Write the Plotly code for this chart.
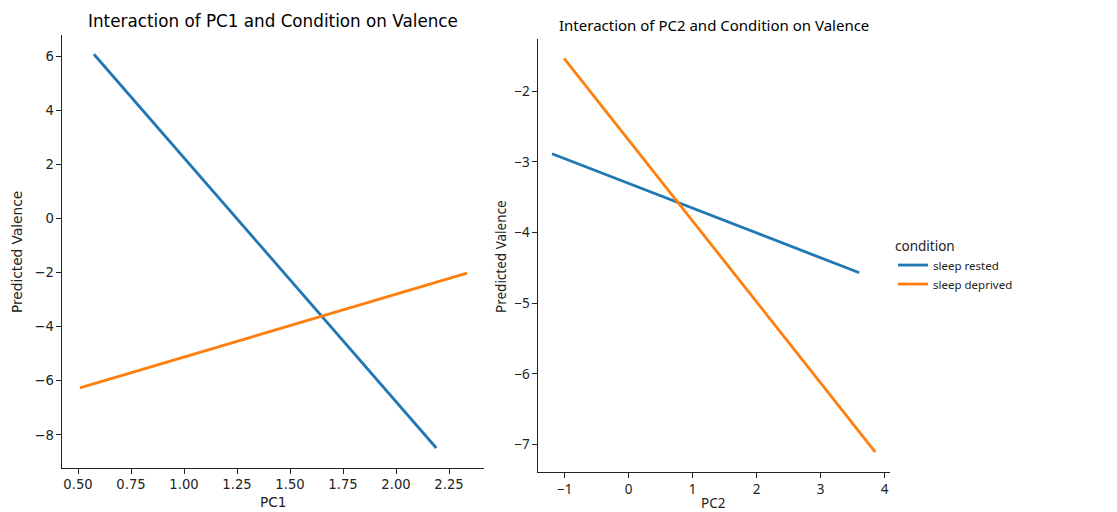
import plotly.graph_objects as go

W, H = 1117, 512

# ---- data ----
conditions = ["sleep rested", "sleep deprived"]
colors = ["#1f77b4", "#ff7f0e"]

pc1_rested_x = [0.575, 2.19]
pc1_rested_y = [6.07, -8.48]
pc1_deprived_x = [0.509, 2.335]
pc1_deprived_y = [-6.26, -2.02]

pc2_rested_x = [-1.198, 3.603]
pc2_rested_y = [-2.884, -4.569]
pc2_deprived_x = [-1.01, 3.853]
pc2_deprived_y = [-1.533, -7.109]

pc1_xticks = [0.50, 0.75, 1.00, 1.25, 1.50, 1.75, 2.00, 2.25]
pc1_yticks = [-8, -6, -4, -2, 0, 2, 4, 6]
pc2_xticks = [-1, 0, 1, 2, 3, 4]
pc2_yticks = [-7, -6, -5, -4, -3, -2]

def px_x(p):
    return p / W

def px_y(p):
    return 1 - p / H

fig = go.Figure()

lw = 2.8
panels = [
    ("x", "y", [(pc1_rested_x, pc1_rested_y), (pc1_deprived_x, pc1_deprived_y)], False),
    ("x2", "y2", [(pc2_rested_x, pc2_rested_y), (pc2_deprived_x, pc2_deprived_y)], True),
]
for xa, ya, series, show in panels:
    for (xs, ys), name, col in zip(series, conditions, colors):
        fig.add_trace(go.Scatter(
            x=xs, y=ys, mode="lines", name=name, legendgroup=name,
            showlegend=show, line=dict(color=col, width=lw),
            xaxis=xa, yaxis=ya,
        ))

f1 = "DejaVu Sans"
f2 = "Noto Sans"
tc = "#222222"

axis_common = dict(
    showline=True, linecolor="#222222", linewidth=1.1, mirror=False,
    ticks="outside", ticklen=4.5, tickwidth=1, tickcolor="#222222",
    showgrid=False, zeroline=False,
)

fig.update_layout(
    width=W, height=H,
    margin=dict(l=0, r=0, t=0, b=0),
    plot_bgcolor="white", paper_bgcolor="white",
    xaxis=dict(domain=[px_x(62), px_x(484)], range=[0.4245, 2.415], anchor="y",
               tickvals=pc1_xticks, ticktext=[f"{v:.2f}" for v in pc1_xticks],
               tickfont=dict(family=f1, size=13.2, color=tc), **axis_common),
    yaxis=dict(domain=[px_y(468), px_y(35)], range=[-9.22, 6.78], anchor="x",
               tickvals=pc1_yticks,
               tickfont=dict(family=f1, size=13.2, color=tc), **axis_common),
    xaxis2=dict(domain=[px_x(538), px_x(890)], range=[-1.417, 4.083], anchor="y2",
                tickvals=pc2_xticks,
                tickfont=dict(family=f2, size=13.5, color=tc), **axis_common),
    yaxis2=dict(domain=[px_y(472), px_y(39)], range=[-7.39, -1.26], anchor="x2",
                tickvals=pc2_yticks,
                tickfont=dict(family=f2, size=13.5, color=tc), **axis_common),
    legend=dict(
        x=px_x(893), y=px_y(233), xanchor="left", yanchor="top",
        title=dict(text="condition", font=dict(family=f2, size=13.5, color=tc)),
        font=dict(family=f2, size=11.5, color=tc),
        bgcolor="rgba(0,0,0,0)", itemwidth=30, tracegroupgap=0,
    ),
)

annotations = [
    dict(text="Interaction of PC1 and Condition on Valence", x=px_x(273), y=px_y(21),
         font=dict(family=f1, size=16.8, color="black")),
    dict(text="Interaction of PC2 and Condition on Valence", x=px_x(714), y=px_y(25),
         font=dict(family=f2, size=15, color="black")),
    dict(text="PC1", x=px_x(273), y=px_y(502), font=dict(family=f1, size=13.7, color=tc)),
    dict(text="PC2", x=px_x(713), y=px_y(503), font=dict(family=f2, size=13.5, color=tc)),
    dict(text="Predicted Valence", x=px_x(17), y=px_y(252), textangle=-90,
         font=dict(family=f1, size=13.7, color=tc)),
    dict(text="Predicted Valence", x=px_x(501), y=px_y(257), textangle=-90,
         font=dict(family=f2, size=13.5, color=tc)),
]
for a in annotations:
    fig.add_annotation(xref="paper", yref="paper", xanchor="center", yanchor="middle",
                       showarrow=False, **a)

fig.write_html("out.html")
